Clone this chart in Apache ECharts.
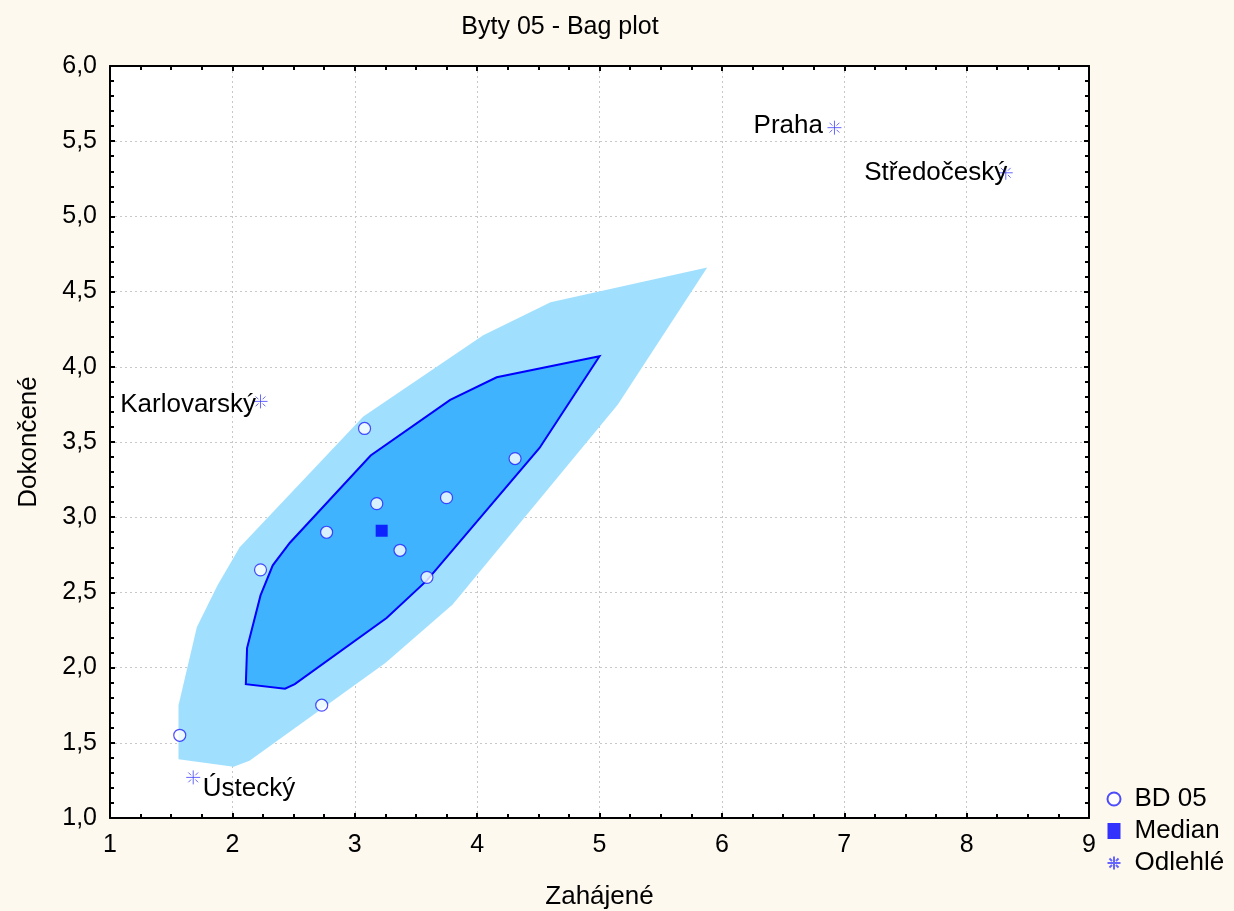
<!DOCTYPE html>
<html>
<head>
<meta charset="utf-8">
<script src="https://cdn.jsdelivr.net/npm/echarts@6/dist/echarts.min.js"></script>
<style>
  html, body { margin: 0; padding: 0; background: #fef9ee; }
  #chart { width: 1234px; height: 911px; }
</style>
</head>
<body>
<div id="chart"></div>
<script>
(function () {
    'use strict';

    // observed data (BD 05)
    var pointsX = [1.57, 2.73, 2.23, 2.77, 3.08, 3.18, 3.37, 3.75, 3.59, 4.31];
    var pointsY = [1.55, 1.75, 2.65, 2.90, 3.59, 3.09, 2.78, 3.13, 2.60, 3.39];

    var medianX = [3.22];
    var medianY = [2.91];

    var outlierNames = ['Praha', 'Středočeský', 'Karlovarský', 'Ústecký'];
    var outlierX = [6.92, 8.32, 2.23, 1.68];
    var outlierY = [5.59, 5.29, 3.77, 1.27];

    // bag (inner) polygon
    var bagX = [2.11, 2.12, 2.23, 2.33, 2.47, 3.13, 3.78, 4.16, 5.00, 4.51, 3.59, 3.26, 2.51, 2.43];
    var bagY = [1.89, 2.13, 2.48, 2.68, 2.83, 3.41, 3.78, 3.93, 4.07, 3.46, 2.58, 2.33, 1.89, 1.86];

    // fence (outer) polygon
    var fenceX = [1.56, 1.56, 1.71, 1.88, 2.06, 3.07, 4.05, 4.60, 5.88, 5.15, 3.80, 3.25, 2.14, 2.01];
    var fenceY = [1.39, 1.75, 2.27, 2.55, 2.80, 3.67, 4.21, 4.43, 4.66, 3.75, 2.42, 2.03, 1.38, 1.34];

    var xTicks = { min: 1, max: 9, step: 1 };
    var yTicks = { min: 1, max: 6, step: 0.5 };

    var FONT = 'Liberation Sans, Arial, sans-serif';
    var starPath = 'path://M0,-10 L0,10 M-10,0 L10,0 M-7,-7 L-3,-3 M3,3 L7,7 M-7,7 L-3,3 M3,-3 L7,-7';

    function zip(xs, ys) {
        return xs.map(function (x, i) { return [x, ys[i]]; });
    }

    function polygonSeries(name, xs, ys, fill, stroke, z) {
        return {
            name: name,
            type: 'custom',
            silent: true,
            z: z,
            data: [[xs[0], ys[0]]],
            renderItem: function (params, api) {
                var pts = xs.map(function (x, i) { return api.coord([x, ys[i]]); });
                return {
                    type: 'polygon',
                    shape: { points: pts },
                    style: { fill: fill, stroke: stroke, lineWidth: stroke ? 2 : 0 }
                };
            }
        };
    }

    var commaFmt = function (v) { return v.toFixed(1).replace('.', ','); };

    function xAxis(pos, labels) {
        return {
            type: 'value', position: pos, min: xTicks.min, max: xTicks.max, interval: xTicks.step,
            axisLine: { show: true, onZero: false, lineStyle: { color: '#000', width: 2 } },
            axisTick: { show: true, inside: true, length: 5, lineStyle: { color: '#000', width: 2 } },
            minorTick: { show: true, splitNumber: 4, length: 4, lineStyle: { color: '#000', width: 2 } },
            splitLine: { show: labels, lineStyle: { color: '#c8c8c8', type: [2, 3], width: 1 } },
            axisLabel: { show: labels, fontFamily: FONT, fontSize: 25, color: '#000', margin: 15 },
            name: labels ? 'Zahájené' : '', nameLocation: 'middle', nameGap: 66,
            nameTextStyle: { fontFamily: FONT, fontSize: 26, color: '#000' }
        };
    }

    function yAxis(pos, labels) {
        return {
            type: 'value', position: pos, min: yTicks.min, max: yTicks.max, interval: yTicks.step,
            axisLine: { show: true, onZero: false, lineStyle: { color: '#000', width: 2 } },
            axisTick: { show: true, inside: true, length: 5, lineStyle: { color: '#000', width: 2 } },
            minorTick: { show: true, splitNumber: 5, length: 4, lineStyle: { color: '#000', width: 2 } },
            splitLine: { show: labels, lineStyle: { color: '#c8c8c8', type: [2, 3], width: 1 } },
            axisLabel: { show: labels, fontFamily: FONT, fontSize: 25, color: '#000', margin: 13, formatter: commaFmt },
            name: labels ? 'Dokončené' : '', nameLocation: 'middle', nameGap: 68, nameRotate: 90,
            nameTextStyle: { fontFamily: FONT, fontSize: 26, color: '#000' }
        };
    }

    var labelPos = {
        'Praha': { position: 'left', distance: 2, offset: [0, -2] },
        'Středočeský': { position: 'left', distance: -11, offset: [0, 0] },
        'Karlovarský': { position: 'left', distance: -5, offset: [0, 3] },
        'Ústecký': { position: 'right', distance: 0, offset: [0, 11] }
    };

    var outlierData = outlierNames.map(function (n, i) {
        var lab = labelPos[n];
        return {
            name: n, value: [outlierX[i], outlierY[i]],
            label: {
                position: lab.position, distance: lab.distance, offset: lab.offset,
                color: '#000', opacity: 1
            }
        };
    });

    var option = {
        backgroundColor: '#fef9ee',
        animation: false,
        title: {
            text: 'Byty 05 - Bag plot',
            left: 555, top: 10, textAlign: 'center',
            textStyle: { fontFamily: FONT, fontSize: 25, fontWeight: 'normal', color: '#000' }
        },
        grid: {
            left: 110, right: 145, top: 66, bottom: 93, outerBoundsMode: 'none',
            show: true, backgroundColor: '#fff', borderWidth: 0
        },
        legend: {
            orient: 'vertical', left: 1100, top: 781, itemGap: 6, itemWidth: 13, itemHeight: 16,
            textStyle: { fontFamily: FONT, fontSize: 26, color: '#000', padding: [0, 0, 0, 9] },
            data: ['BD 05', 'Median', 'Odlehlé']
        },
        xAxis: [xAxis('bottom', true), xAxis('top', false)],
        yAxis: [yAxis('left', true), yAxis('right', false)],
        series: [
            polygonSeries('fence', fenceX, fenceY, '#a0e0fe', null, 1),
            polygonSeries('bag', bagX, bagY, '#40b3ff', '#0000ff', 2),
            {
                name: 'BD 05', type: 'scatter', z: 5,
                symbol: 'circle', symbolSize: 12,
                itemStyle: { color: '#fff', borderColor: '#2020ff', borderWidth: 1.2 },
                data: zip(pointsX, pointsY)
            },
            {
                name: 'Median', type: 'scatter', z: 5,
                symbol: 'rect', symbolSize: 12,
                itemStyle: { color: '#0000ff' },
                data: zip(medianX, medianY)
            },
            {
                name: 'Odlehlé', type: 'scatter', z: 5,
                symbol: starPath, symbolSize: 14,
                itemStyle: { color: 'none', borderColor: '#4040ff', borderWidth: 1 },
                label: {
                    show: true, formatter: '{b}', fontFamily: FONT, fontSize: 26,
                    color: '#000', textBorderWidth: 0
                },
                data: outlierData
            }
        ]
    };

    var chart = echarts.init(document.getElementById('chart'), null, { renderer: 'canvas' });
    chart.setOption(option);
})();
</script>
</body>
</html>
